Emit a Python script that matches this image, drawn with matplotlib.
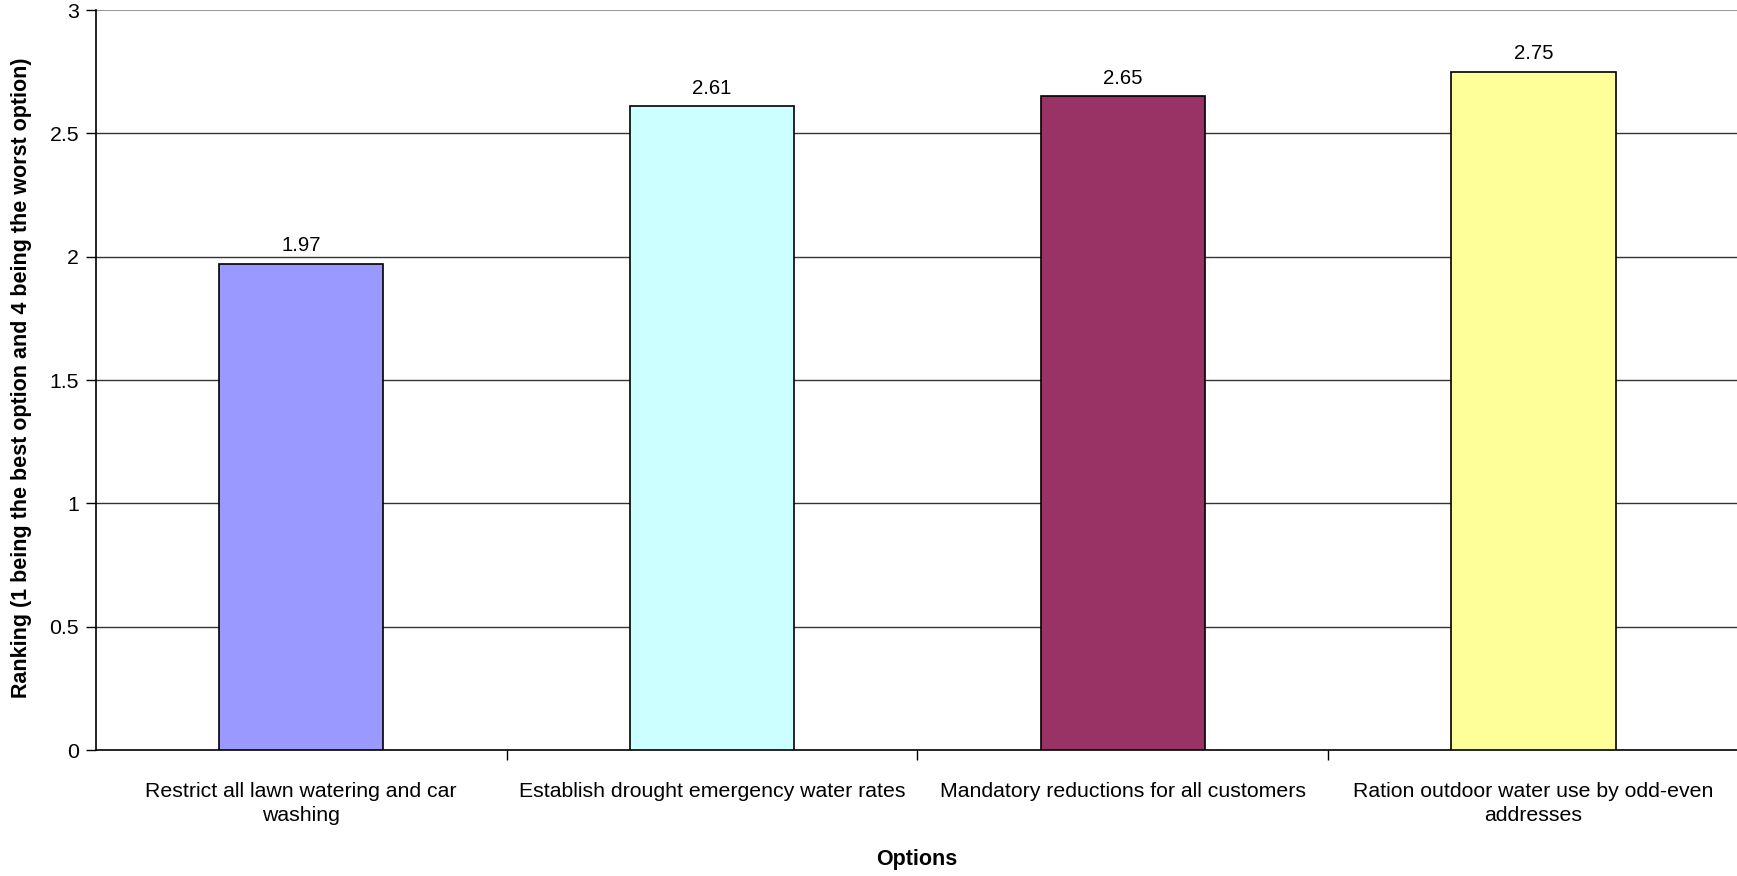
import matplotlib
matplotlib.use("Agg")
import matplotlib.pyplot as plt
import numpy as np
from matplotlib.ticker import FixedLocator

categories = ["Restrict all lawn watering and car\nwashing",
              "Establish drought emergency water rates",
              "Mandatory reductions for all customers",
              "Ration outdoor water use by odd-even\naddresses"]
values = [1.97, 2.61, 2.65, 2.75]
colors = ["#9999FF", "#CCFFFF", "#993366", "#FFFF99"]
yticks = [0, 0.5, 1, 1.5, 2, 2.5, 3]
ytick_labels = ["0", "0.5", "1", "1.5", "2", "2.5", "3"]

plt.rcParams['font.family'] = ['Liberation Sans', 'DejaVu Sans']

W, H = 1737, 876
fig = plt.figure(figsize=(W/100, H/100), dpi=100)
ax = fig.add_axes([95.7/W, 1-750/H, (1739-95.7)/W, (750-10)/H])

x = np.arange(len(categories))
ax.bar(x, values, width=0.4, color=colors, edgecolor="black", linewidth=1.2, zorder=3)
for xi, v in zip(x, values):
    ax.text(xi, v + 0.035, f"{v:.2f}", ha="center", va="bottom", fontsize=14.7)

ax.set_xlim(-0.5, len(categories) - 0.5)
ax.set_ylim(0, 3)
ax.set_yticks(yticks)
ax.set_yticklabels(ytick_labels, fontsize=15.3)
for y in yticks[1:-1]:
    ax.axhline(y, color="#333333", linewidth=1, zorder=1)
ax.axhline(3, color="#999999", linewidth=1.5, zorder=1)

ax.set_xticks(x)
ax.set_xticklabels(categories, fontsize=15.3, linespacing=1.35)
ax.tick_params(axis="x", length=0, pad=23)
ax.xaxis.set_minor_locator(FixedLocator(np.arange(0.5, len(categories) - 0.5, 1.0)))
ax.tick_params(axis="x", which="minor", length=7, width=1, direction="out")
ax.tick_params(axis="y", length=7, width=1, direction="out", pad=5)

for s in ["top", "right"]:
    ax.spines[s].set_visible(False)
ax.spines["left"].set_linewidth(1.2)
ax.spines["bottom"].set_linewidth(1.2)

fig.text(917/W, 1-860/H, "Options", fontsize=15.5, fontweight="bold",
         ha="center", va="center")
fig.text(22/W, 1-378/H,
         "Ranking (1 being the best option and 4 being the worst option)",
         fontsize=15.5, fontweight="bold", rotation=90, ha="center", va="center")

fig.savefig("out.png", dpi=100)
